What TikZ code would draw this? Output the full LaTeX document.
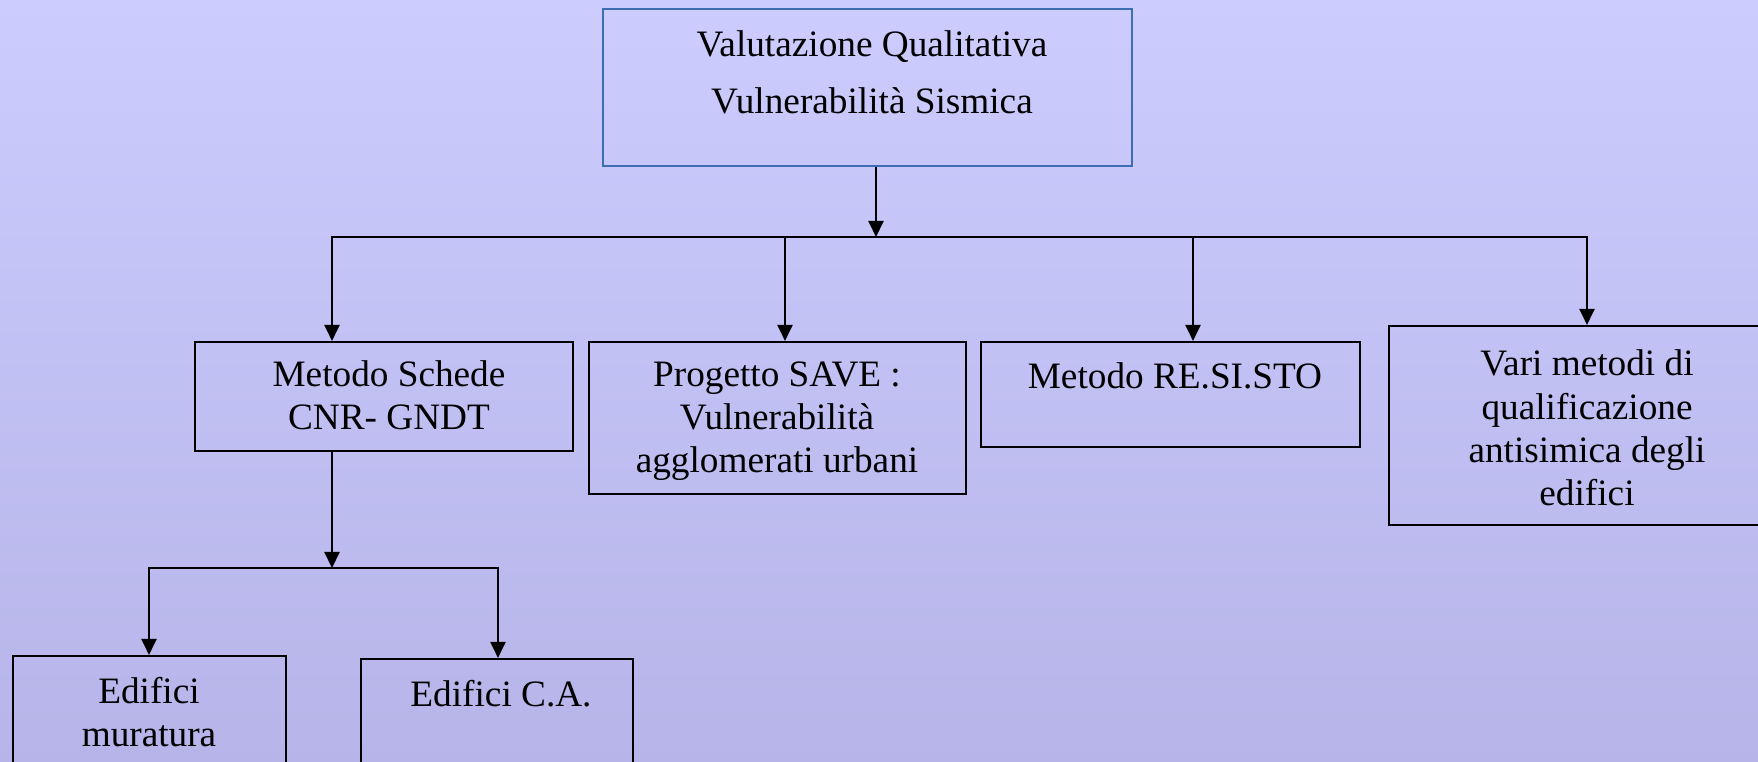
\documentclass[tikz,border=0pt]{standalone}
\usepackage{fontspec}
\setmainfont{Liberation Serif}
\usetikzlibrary{arrows.meta, positioning, calc}
\definecolor{bgtop}{RGB}{204,204,255}
\definecolor{bgbot}{RGB}{182,180,232}
\definecolor{topline}{RGB}{62,110,178}

\begin{document}
\begin{tikzpicture}[x=0.1mm, y=-0.1mm,
  box/.style={rectangle, draw, line width=0.6pt, inner sep=0pt},
  txt/.style={align=center, inner sep=0pt, font=\fontsize{10.6}{12.3}\selectfont},
  arr/.style={-{Triangle[length=1.6mm, width=1.5mm]}, line width=0.6pt},
  wire/.style={line width=0.6pt, line cap=rect}
]
\useasboundingbox (0,0) rectangle (1758,762);
\shade[top color=bgtop, bottom color=bgbot] (0,0) rectangle (1758,762);

% boxes
\node[box, draw=topline, minimum width=52.9mm, minimum height=15.7mm] (valut) at (867.5,87.5) {};
\node[box, minimum width=37.8mm, minimum height=10.9mm] (schede) at (384,396.5) {};
\node[box, minimum width=37.7mm, minimum height=15.2mm] (save) at (777.5,418) {};
\node[box, minimum width=37.9mm, minimum height=10.5mm] (resisto) at (1170.5,394.5) {};
\node[box, minimum width=39.6mm, minimum height=19.9mm] (vari) at (1587,425.5) {};
\node[box, minimum width=27.3mm, minimum height=13mm] (muratura) at (149.5,721) {};
\node[box, minimum width=27.2mm, minimum height=13mm] (ca) at (497,724) {};

% texts
\node[txt, font=\fontsize{10.6}{16.2}\selectfont] (valutT) at (872,72.5) {Valutazione Qualitativa\\Vulnerabilità Sismica};
\node[txt] (schedeT) at (389,395.5) {Metodo Schede\\CNR- GNDT};
\node[txt] (saveT) at (777,421) {Progetto SAVE :\\Vulnerabilità\\agglomerati urbani};
\node[txt] (resistoT) at (1175,376) {Metodo RE.SI.STO};
\node[txt] (variT) at (1587,428) {Vari metodi di\\qualificazione\\antisimica degli\\edifici};
\node[txt] (muraturaT) at (149,712) {Edifici\\muratura};
\node[txt] (caT) at (501,694) {Edifici C.A.};

% bus points
\coordinate (busTop) at (876,237);
\coordinate (busL) at (332,237);
\coordinate (bus2) at (785,237);
\coordinate (bus3) at (1193,237);
\coordinate (busR) at (1587,237);
\coordinate (subM) at (332,568);
\coordinate (subL) at (149,568);
\coordinate (subR) at (498,568);

\draw[arr] (valut.south -| busTop) -- (busTop);
\draw[wire] (busL) -- (busR);
\draw[arr] (busL) -- (schede.north -| busL);
\draw[arr] (bus2) -- (save.north -| bus2);
\draw[arr] (bus3) -- (resisto.north -| bus3);
\draw[arr] (busR) -- (vari.north -| busR);

\draw[arr] (schede.south -| subM) -- (subM);
\draw[wire] (subL) -- (subR);
\draw[arr] (subL) -- (muratura.north -| subL);
\draw[arr] (subR) -- (ca.north -| subR);

\end{tikzpicture}
\end{document}
